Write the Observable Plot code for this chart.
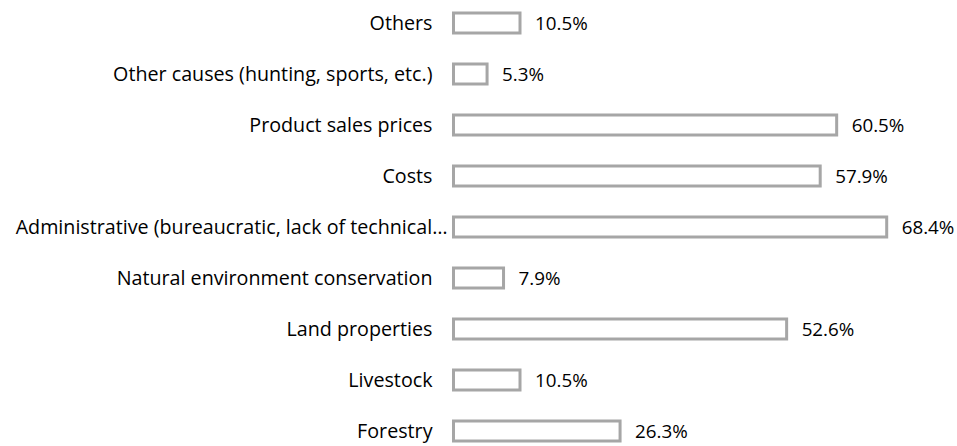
<!DOCTYPE html>
<html>
<head>
<meta charset="utf-8">
<script src="https://cdn.jsdelivr.net/npm/d3@7"></script>
<script src="https://cdn.jsdelivr.net/npm/@observablehq/plot@0.6"></script>
<style>
  html, body { margin: 0; padding: 0; background: #fff; }
  #chart svg { display: block; }
</style>
</head>
<body>
<div id="chart"></div>
<script>
// Categories listed top to bottom
const categories = [
  "Others",
  "Other causes (hunting, sports, etc.)",
  "Product sales prices",
  "Costs",
  "Administrative (bureaucratic, lack of technical…",
  "Natural environment conservation",
  "Land properties",
  "Livestock",
  "Forestry"
];
const values = [10.5, 5.3, 60.5, 57.9, 68.4, 7.9, 52.6, 10.5, 26.3];

const data = categories.map((c, i) => ({category: c, value: values[i], truncated: c.endsWith("…")}));

const font = "'Open Sans', 'Noto Sans', sans-serif";

const chart = Plot.plot({
  width: 957,
  height: 446,
  marginLeft: 453.5,
  marginRight: 0,
  marginTop: 0,
  marginBottom: 0,
  style: {fontFamily: font, fontSize: "19.7px", color: "#000", background: "#fff"},
  x: {domain: [0, 79.5], axis: null},
  y: {domain: categories, range: [0, 453], paddingInner: 0.61, paddingOuter: 0.192, axis: null},
  marks: [
    Plot.barX(data, {x: "value", y: "category", fill: "#fff", stroke: "#a6a6a6", strokeWidth: 3}),
    Plot.text(data, {x: "value", y: "category", text: d => d.value.toFixed(1) + "%", textAnchor: "start", dx: 14.5, dy: 0.5, fill: "#000", fontSize: 18.8}),
    Plot.text(data.filter(d => !d.truncated), {x: () => 0, y: "category", text: "category", textAnchor: "end", dx: -21.5, fill: "#000", fontSize: 19.7}),
    Plot.text(data.filter(d => d.truncated), {x: () => 0, y: "category", text: "category", textAnchor: "end", dx: -6.5, fill: "#000", fontSize: 19.7})
  ]
});
document.getElementById("chart").appendChild(chart);
</script>
</body>
</html>
